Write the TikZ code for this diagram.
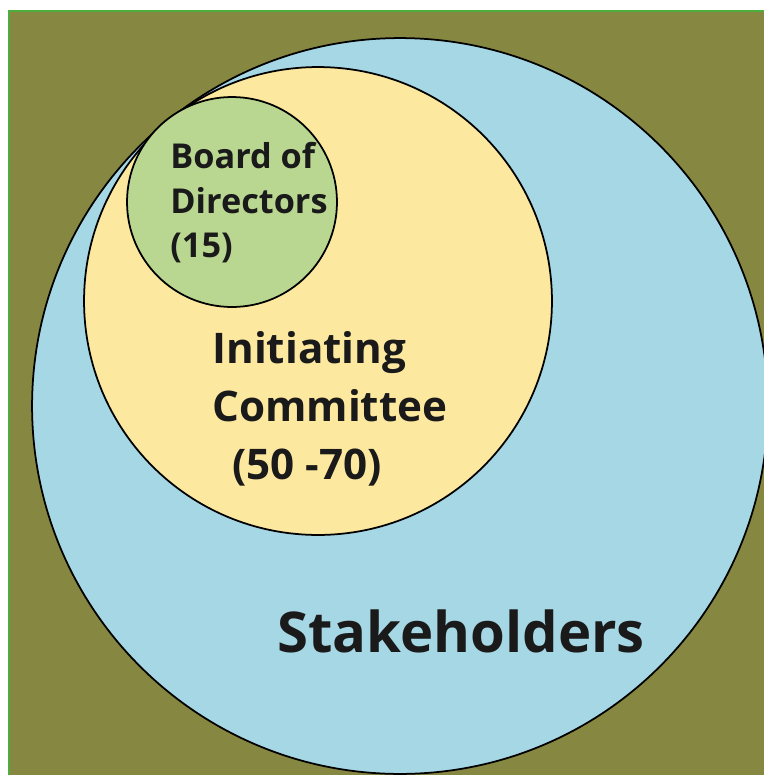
\documentclass[tikz,border=0pt]{standalone}
\usepackage{fontspec}
\setmainfont{Open Sans}
\usetikzlibrary{positioning}

\definecolor{bgolive}{HTML}{868741}
\definecolor{edgegreen}{HTML}{4DAE3E}
\definecolor{stakeblue}{HTML}{A6D7E5}
\definecolor{commyellow}{HTML}{FDE8A0}
\definecolor{boardgreen}{HTML}{B9D791}
\definecolor{textblack}{HTML}{1A1A1A}

\begin{document}
\begin{tikzpicture}[x=0.02cm, y=-0.02cm,
    ring/.style={circle, draw=black, line width=1pt, inner sep=0pt},
    lbl/.style={font=\bfseries, text=textblack, align=left, inner sep=0pt}]
    \useasboundingbox (0,0) rectangle (764,775);
    \clip (0,0) rectangle (764,775);

    % Background
    \fill[bgolive] (8,10) rectangle (764,775);
    \draw[edgegreen, line width=1.2pt] (9,775) -- (9,11) -- (764,11);

    % Circles
    \node[ring, fill=stakeblue, minimum size=14.72cm] (stake) at (400,406) {};
    \node[ring, fill=commyellow, minimum size=9.36cm] (comm) at (318,301) {};
    \node[ring, fill=boardgreen, minimum size=4.2cm] (board) at (232,202) {};

    % Labels
    \node[lbl, anchor=north west, font=\bfseries\fontsize{19.5}{25.4}\selectfont]
        (boardtxt) at (170,142) {Board of\\Directors\\(15)};
    \node[lbl, anchor=north west, font=\bfseries\fontsize{24}{33}\selectfont]
        (commtxt) at (212,331) {Initiating\\Committee\\\hspace*{0.4cm}(50 -70)};
    \node[lbl, anchor=base west, font=\bfseries\fontsize{32}{38}\selectfont]
        (staketxt) at (277,652) {Stakeholders};
\end{tikzpicture}
\end{document}
